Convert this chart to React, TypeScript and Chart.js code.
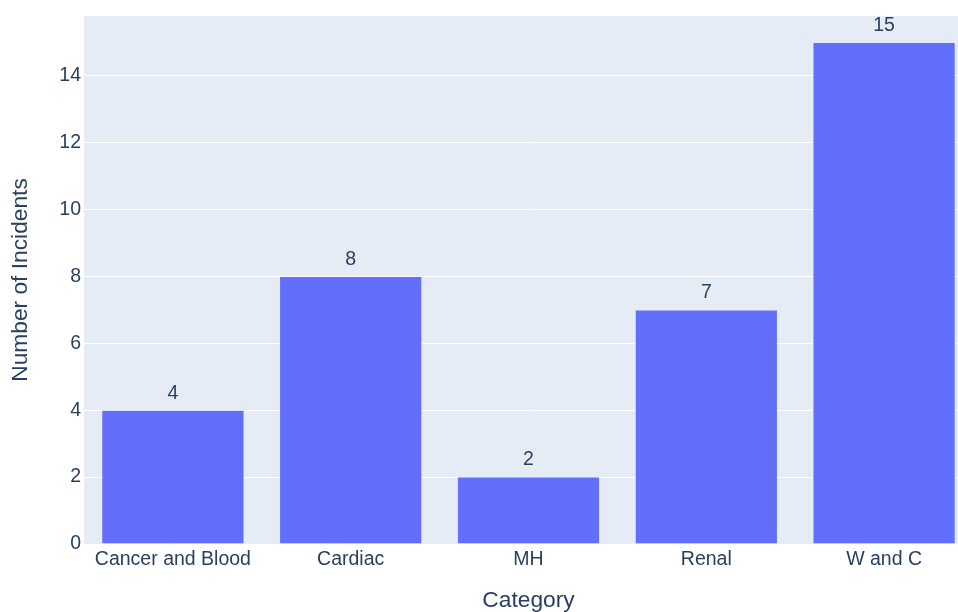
import React, { useEffect, useRef } from "react";
import { Chart, registerables } from "chart.js";

Chart.register(...registerables);

const categories: string[] = ["Cancer and Blood", "Cardiac", "MH", "Renal", "W and C"];
const incidents: number[] = [4, 8, 2, 7, 15];
const yTickValues: number[] = [0, 2, 4, 6, 8, 10, 12, 14];

const FONT = "'Liberation Sans', Arial, sans-serif";
const TEXT = "#2a3f5f";

const plotBg = {
  id: "plotBg",
  beforeDraw(chart: any) {
    const { ctx, chartArea } = chart;
    ctx.save();
    ctx.fillStyle = "#E5ECF6";
    ctx.fillRect(chartArea.left, chartArea.top, chartArea.right - chartArea.left, chartArea.bottom - chartArea.top);
    ctx.restore();
  },
};

const barLabels = {
  id: "barLabels",
  afterDatasetsDraw(chart: any) {
    const { ctx } = chart;
    const meta = chart.getDatasetMeta(0);
    const data = chart.data.datasets[0].data;
    ctx.save();
    ctx.font = `19.5px ${FONT}`;
    ctx.fillStyle = TEXT;
    ctx.textAlign = "center";
    ctx.textBaseline = "middle";
    meta.data.forEach((el: any, i: number) => {
      ctx.fillText(String(data[i]), el.x, el.y - 17);
    });
    ctx.restore();
  },
};

export default function App() {
  const ref = useRef<HTMLCanvasElement>(null);
  useEffect(() => {
    if (!ref.current) return;
    const chart = new Chart(ref.current, {
      type: "bar",
      data: {
        labels: categories,
        datasets: [
          {
            data: incidents,
            backgroundColor: "#636efa",
            borderColor: "#E5ECF6",
            borderWidth: 0.5,
            categoryPercentage: 0.8,
            barPercentage: 1,
          },
        ],
      },
      options: {
        animation: false,
        responsive: false,
        devicePixelRatio: 1,
        layout: { padding: { top: 16, left: 0, right: 0, bottom: 0 } },
        plugins: { legend: { display: false }, tooltip: { enabled: false } },
        scales: {
          x: {
            afterFit: (s: any) => {
              s.height = 68;
            },
            grid: { display: false },
            border: { display: false },
            ticks: { font: { family: FONT, size: 19.5 }, color: TEXT, padding: -4, maxRotation: 0 },
            title: {
              display: true,
              text: "Category",
              font: { family: FONT, size: 22.75, lineHeight: 1 },
              color: TEXT,
              padding: 0,
            },
          },
          y: {
            min: 0,
            max: 15.79,
            afterFit: (s: any) => {
              s.width = 84;
            },
            afterBuildTicks: (s: any) => {
              s.ticks = yTickValues.map((v) => ({ value: v }));
            },
            grid: { color: "#ffffff", lineWidth: 1, drawTicks: false },
            border: { display: false },
            ticks: { font: { family: FONT, size: 19.5 }, color: TEXT, padding: 3 },
            title: {
              display: true,
              text: "Number of Incidents",
              font: { family: FONT, size: 22.75, lineHeight: 1 },
              color: TEXT,
              padding: { top: 9, bottom: 0 },
            },
          },
        },
      },
      plugins: [plotBg, barLabels],
    });
    return () => chart.destroy();
  }, []);
  return (
    <div style={{ position: "fixed", left: 0, top: 0, width: 958, height: 612, overflow: "hidden", background: "#fff" }}>
      <canvas ref={ref} width={973} height={612} style={{ width: 973, height: 612, display: "block" }} />
    </div>
  );
}
